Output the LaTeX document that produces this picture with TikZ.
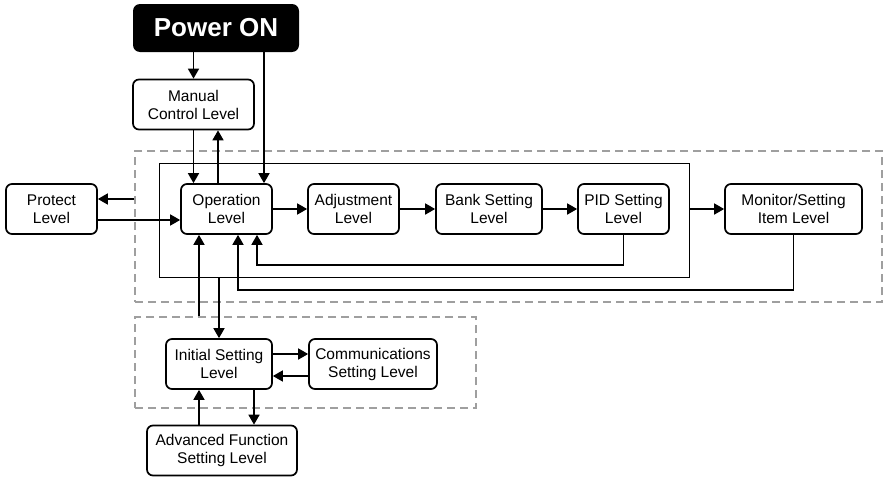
\documentclass[tikz,border=0pt]{standalone}
\usepackage{fontspec}
\setmainfont{Liberation Sans}
\usetikzlibrary{arrows.meta}

\tikzset{
  level/.style={draw, line width=1.7pt, rounded corners=6pt, align=center,
    inner sep=0pt, minimum height=50, font=\fontsize{15.5}{18}\selectfont},
  zone/.style={draw=gray!75, line width=2pt, dash pattern=on 8pt off 5pt, inner sep=0pt},
  link/.style={line width=1.7pt, -{Triangle[length=10pt,width=11pt]}},
}

\begin{document}
\begin{tikzpicture}[x=1pt, y=-1pt]
    \useasboundingbox (0,0) rectangle (883,479);

    % Zones
    \node[zone, minimum width=747, minimum height=151] (mainzone) at (508.5,226.5) {};
    \node[zone, minimum width=341, minimum height=91] (setupzone) at (305.5,362.5) {};
    \node[draw, line width=1pt, inner sep=0pt, minimum width=530, minimum height=114] (levelzone) at (424,220) {};

    % Power on
    \node[fill=black, text=white, rounded corners=7pt, minimum width=166, minimum height=48,
      font=\fontsize{26}{30}\selectfont\bfseries] (power) at (216,28) {Power ON};

    % Levels
    \foreach \n/\x/\y/\w/\t in {manual/193.5/104.5/121/{Manual\\Control Level},
                                protect/51.5/209/91/{Protect\\Level},
                                operation/226.5/209/91/{Operation\\Level},
                                adjust/353.5/209/91/{Adjustment\\Level},
                                bank/489/209/106/{Bank Setting\\Level},
                                pid/623.5/209/91/{PID Setting\\Level},
                                monitor/793.5/209/137/{Monitor/Setting\\Item Level},
                                initial/219/364/106/{Initial Setting\\Level},
                                comm/373/364/128/{Communications\\Setting Level},
                                adv/222/450.5/150/{Advanced Function\\Setting Level}}
      \node[level, minimum width=\w] (\n) at (\x,\y) {\t};

    % Start up
    \draw[link] (power.south -| manual.north) -- (manual.north);
    \draw[link] ([xshift=37.5]operation.north |- power.south) -- ([xshift=37.5]operation.north);
    \draw[link] (manual.south) -- (manual.south |- operation.north);
    \draw[link] ([xshift=-8.5]operation.north) -- ([xshift=-8.5]operation.north |- manual.south);

    % Protect
    \draw[link] ([yshift=10]protect.east -| mainzone.west) -- ([yshift=10]protect.east);
    \draw[link] ([yshift=-11]protect.east) -- ([yshift=-11]operation.west);

    % Level chain
    \draw[link] (operation) -- (adjust);
    \draw[link] (adjust) -- (bank);
    \draw[link] (bank) -- (pid);
    \draw[link] (levelzone.east |- monitor.west) -- (monitor.west);

    % Returns
    \draw[link] (pid.south) -- ++(0,30) -| ([xshift=30.5]operation.south);
    \draw[link] (monitor.south) -- ++(0,55) -| ([xshift=11.5]operation.south);

    % Initial setting
    \draw[link] ([xshift=-27.5]operation.south |- setupzone.north) -- ([xshift=-27.5]operation.south);
    \draw[link] (levelzone.south -| initial.north) -- (initial.north);
    \draw[link] ([yshift=10]initial.east) -- ([yshift=10]initial.east -| comm.west);
    \draw[link] ([yshift=-12]comm.west) -- ([yshift=-12]comm.west -| initial.east);
    \draw[link] ([xshift=-23]adv.north) -- ([xshift=-23]adv.north |- initial.south);
    \draw[link] ([xshift=35]initial.south) -- ([xshift=35]initial.south |- adv.north);
\end{tikzpicture}
\end{document}
